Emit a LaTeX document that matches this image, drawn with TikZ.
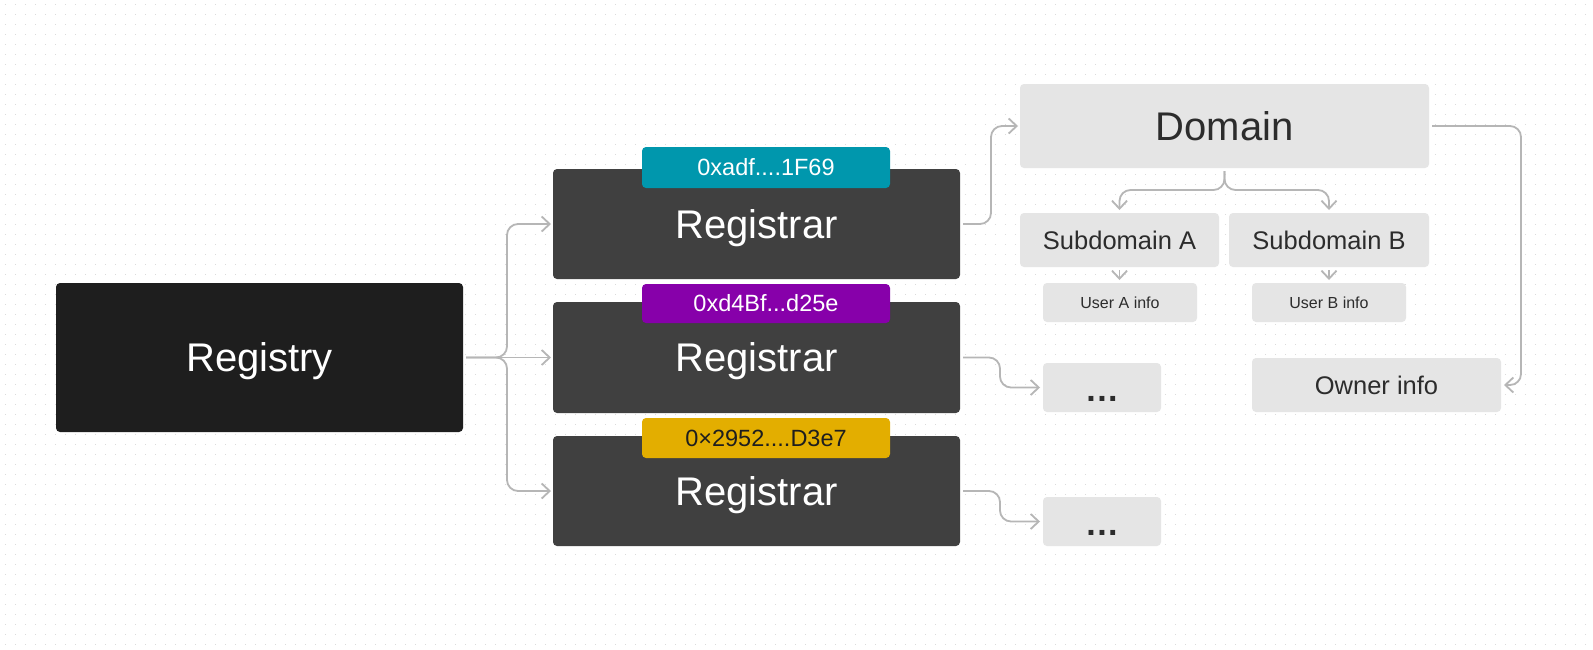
\documentclass[tikz,border=0pt]{standalone}
\usepackage{fontspec}
\setmainfont{Liberation Sans}
\usetikzlibrary{arrows.meta}
\definecolor{regc}{HTML}{1E1E1E}
\definecolor{rarc}{HTML}{404040}
\definecolor{lightc}{HTML}{E5E5E5}
\definecolor{tealc}{RGB}{0,151,173}
\definecolor{purpc}{RGB}{135,0,170}
\definecolor{yelc}{RGB}{227,174,0}
\definecolor{txtc}{HTML}{2C2C2C}
\definecolor{linec}{HTML}{B6B6B6}
\definecolor{dotc}{HTML}{DADADA}
\tikzset{
  box/.style={rectangle, rounded corners=4pt, inner sep=0pt, outer sep=0pt,
    anchor=north west, text depth=0pt, align=center},
  big/.style={font=\fontsize{40}{48}\selectfont, text height=28.6pt},
  mid/.style={font=\fontsize{25.5}{30}\selectfont, text height=18.3pt},
  small/.style={font=\fontsize{16}{19}\selectfont, text height=11.5pt},
  lab/.style={font=\fontsize{23.5}{28}\selectfont, text height=16.8pt},
  dotsf/.style={font=\fontsize{34}{40}\selectfont\bfseries, text height=28pt},
  darkbox/.style={box, big, text=white},
  lightbox/.style={box, fill=lightc, text=txtc},
  conn/.style={draw=linec, line width=1.8pt, rounded corners=11pt,
    -{Straight Barb[length=8pt,width=15pt]}},
}
\begin{document}
\begin{tikzpicture}[x=1pt,y=-1pt]
\useasboundingbox (0,0) rectangle (1593,649);
\fill[white] (0,0) rectangle (1593,649);
\foreach \y in {4.5,14.5,...,644.5}
  \draw[dotc, line width=1pt, dash pattern=on 1pt off 9pt] (5,\y) -- (1593,\y);

% nodes
\node[darkbox, fill=regc, minimum width=407pt, minimum height=149pt] (registry) at (56,283) {Registry};
\node[darkbox, fill=rarc, minimum width=407pt, minimum height=110pt] (r1) at (553,169) {Registrar};
\node[darkbox, fill=rarc, minimum width=407pt, minimum height=111pt] (r2) at (553,302) {Registrar};
\node[darkbox, fill=rarc, minimum width=407pt, minimum height=110pt] (r3) at (553,436) {Registrar};
\node[box, lab, fill=tealc, text=white, minimum width=248pt, minimum height=41pt] (l1) at (642,147) {0xadf....1F69};
\node[box, lab, fill=purpc, text=white, minimum width=248pt, minimum height=39pt] (l2) at (642,284) {0xd4Bf...d25e};
\node[box, lab, fill=yelc, text=regc, minimum width=248pt, minimum height=40pt] (l3) at (642,418) {0×2952....D3e7};

\node[lightbox, big, minimum width=409pt, minimum height=84pt] (domain) at (1020,84) {Domain};
\node[lightbox, mid, minimum width=199pt, minimum height=54pt] (subA) at (1020,213) {Subdomain A};
\node[lightbox, mid, minimum width=200pt, minimum height=54pt] (subB) at (1229,213) {Subdomain B};
\node[lightbox, small, minimum width=154pt, minimum height=39pt] (userA) at (1043,283) {User A info};
\node[lightbox, small, minimum width=154pt, minimum height=39pt] (userB) at (1252,283) {User B info};
\node[lightbox, dotsf, minimum width=118pt, minimum height=49pt] (dots1) at (1043,363) {.\kern1.5pt.\kern1.5pt.};
\node[lightbox, dotsf, minimum width=118pt, minimum height=49pt] (dots2) at (1043,497) {.\kern1.5pt.\kern1.5pt.};
\node[lightbox, mid, minimum width=249pt, minimum height=54pt] (owner) at (1252,358) {Owner info};

% helper coordinates
\coordinate (bx) at (507,0);
\coordinate (c1) at (991,0);
\coordinate (c2) at (1000,0);
\coordinate (c3) at (1521,0);
\coordinate (by) at (0,190);

% connectors
\draw[conn] ([xshift=3pt]registry.east) -- (registry.east -| bx) -- (bx |- r1.west) -- ([xshift=-2pt]r1.west);
\draw[conn] ([xshift=3pt]registry.east) -- ([xshift=-2pt]r2.west);
\draw[conn] ([xshift=3pt]registry.east) -- (registry.east -| bx) -- (bx |- r3.west) -- ([xshift=-2pt]r3.west);

\draw[conn] ([xshift=3pt]r1.east) -- (r1.east -| c1) -- (c1 |- domain.west) -- ([xshift=-2pt]domain.west);
\draw[conn] ([xshift=3pt]r2.east) -- (r2.east -| c2) -- (c2 |- dots1.west) -- ([xshift=-3pt]dots1.west);
\draw[conn] ([xshift=3pt]r3.east) -- (r3.east -| c2) -- (c2 |- dots2.west) -- ([xshift=-3pt]dots2.west);

\draw[conn] ([yshift=-3pt]domain.south) -- (domain.south |- by) -- (subA.north |- by) -- ([yshift=3pt]subA.north);
\draw[conn] ([yshift=-3pt]domain.south) -- (domain.south |- by) -- (subB.north |- by) -- ([yshift=3pt]subB.north);

\draw[conn] ([yshift=-3pt]subA.south) -- ([yshift=3pt]subA.south |- userA.north);
\draw[conn] ([yshift=-3pt]subB.south) -- ([yshift=3pt]subB.south |- userB.north);

\draw[conn] ([xshift=3pt]domain.east) -- (domain.east -| c3) -- (c3 |- owner.east) -- ([xshift=3pt]owner.east);
\end{tikzpicture}
\end{document}
